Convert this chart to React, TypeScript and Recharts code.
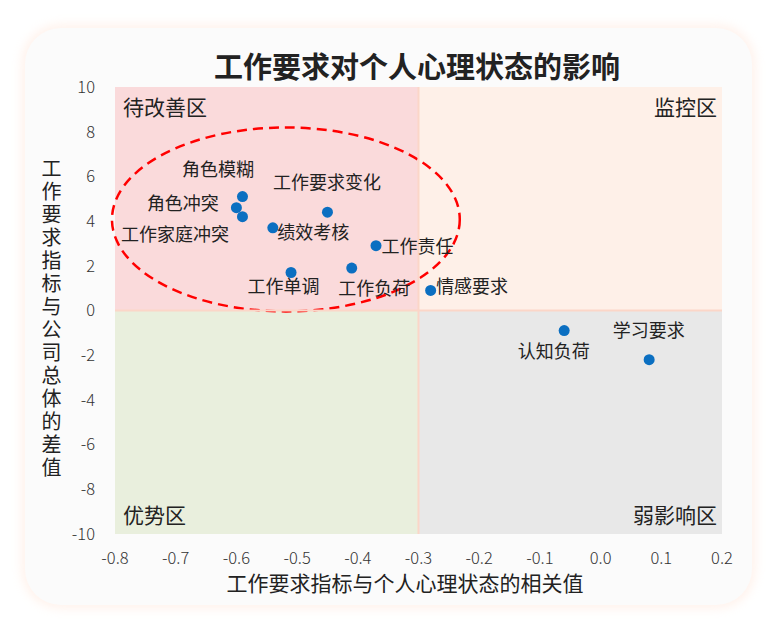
import React from 'react'
import {
  ScatterChart,
  Scatter,
  XAxis,
  YAxis,
  ReferenceArea,
  ReferenceLine,
  LabelList,
} from 'recharts'

// 工作要求指标
const names = [
  '角色模糊',
  '角色冲突',
  '工作家庭冲突',
  '绩效考核',
  '工作要求变化',
  '工作责任',
  '工作单调',
  '工作负荷',
  '情感要求',
  '认知负荷',
  '学习要求',
]
// 与个人心理状态的相关值
const corrValues = [-0.59, -0.6, -0.59, -0.54, -0.45, -0.37, -0.51, -0.41, -0.28, -0.06, 0.08]
// 与公司总体的差值
const diffValues = [5.1, 4.6, 4.2, 3.7, 4.4, 2.9, 1.7, 1.9, 0.9, -0.9, -2.2]

const xTicks = [-0.8, -0.7, -0.6, -0.5, -0.4, -0.3, -0.2, -0.1, 0, 0.1, 0.2]
const yTicks = [-10, -8, -6, -4, -2, 0, 2, 4, 6, 8, 10]

const data = names.map((name, i) => ({ name, x: corrValues[i], y: diffValues[i] }))

// label placement around each dot
const labelPos: Record<string, { dx: number; dy: number; anchor: string }> = {
  角色模糊: { dx: -20, dy: -24, anchor: 'middle' },
  角色冲突: { dx: -13, dy: -1, anchor: 'end' },
  工作家庭冲突: { dx: -9, dy: 21, anchor: 'end' },
  绩效考核: { dx: 9, dy: 8, anchor: 'start' },
  工作要求变化: { dx: 4, dy: -27, anchor: 'middle' },
  工作责任: { dx: 10, dy: 4, anchor: 'start' },
  工作单调: { dx: -3, dy: 17, anchor: 'middle' },
  工作负荷: { dx: 27, dy: 23, anchor: 'middle' },
  情感要求: { dx: 10, dy: -1, anchor: 'start' },
  认知负荷: { dx: -6, dy: 24, anchor: 'middle' },
  学习要求: { dx: 4, dy: -26, anchor: 'middle' },
}

const FONT = '"Noto Sans CJK SC", "Noto Sans", sans-serif'

const PointLabel = (props: any) => {
  const { x, y, value } = props
  const p = labelPos[value] || { dx: 0, dy: -15, anchor: 'middle' }
  return (
    <text
      x={x + p.dx}
      y={y + p.dy}
      textAnchor={p.anchor as any}
      dominantBaseline="central"
      fontSize={18}
      fill="#222"
      fontFamily={FONT}
    >
      {value}
    </text>
  )
}

const Dot = (props: any) => <circle cx={props.cx} cy={props.cy} r={5.5} fill="#0b6fc1" />

const Ellipse = (props: any) => {
  const { x, y, width, height } = props
  return (
    <ellipse
      cx={x + width / 2}
      cy={y + height / 2}
      rx={width / 2}
      ry={height / 2}
      fill="none"
      stroke="#ff0000"
      strokeWidth={2.5}
      strokeDasharray="10 6"
    />
  )
}

const QuadLabel = (props: any) => {
  const { viewBox, text, corner } = props
  const { x, y, width, height } = viewBox
  const right = corner.includes('right')
  const bottom = corner.includes('bottom')
  return (
    <text
      x={right ? x + width - 5 : x + 8}
      y={bottom ? y + height - 20 : y + 19}
      textAnchor={right ? 'end' : 'start'}
      dominantBaseline="central"
      fontSize={21}
      fill="#222"
      fontFamily={FONT}
    >
      {text}
    </text>
  )
}

const tickStyle = { fontSize: 16.5, fill: '#333', fontWeight: 300, fontFamily: FONT }

export default function App() {
  return (
    <div style={{ position: 'absolute', left: 0, top: 0, width: 773, height: 629, background: '#fff', fontFamily: FONT }}>
      <div
        style={{
          position: 'absolute',
          left: 25,
          top: 28,
          width: 727,
          height: 577,
          borderRadius: 36,
          background: '#fbfbfb',
          boxShadow: '0 0 10px 4px rgba(255,215,195,0.3)',
        }}
      />
      <div
        style={{
          position: 'absolute',
          left: 117,
          top: 46,
          width: 600,
          lineHeight: '38px',
          textAlign: 'center',
          fontSize: 29,
          fontWeight: 'bold',
          color: '#222',
        }}
      >
        工作要求对个人心理状态的影响
      </div>
      <div
        style={{
          position: 'absolute',
          left: 38,
          top: 158,
          width: 26,
          writingMode: 'vertical-rl',
          textOrientation: 'upright',
          fontSize: 20,
          letterSpacing: 3,
          lineHeight: '26px',
          color: '#222',
        }}
      >
        工作要求指标与公司总体的差值
      </div>
      <div
        style={{
          position: 'absolute',
          left: 105,
          top: 572,
          width: 600,
          lineHeight: '20px',
          textAlign: 'center',
          fontSize: 21,
          color: '#222',
        }}
      >
        工作要求指标与个人心理状态的相关值
      </div>
      <div style={{ position: 'absolute', left: 0, top: 0 }}>
        <ScatterChart width={773} height={629} margin={{ top: 87, right: 51, bottom: 55, left: 55 }}>
          <XAxis
            type="number"
            dataKey="x"
            domain={[-0.8, 0.2]}
            ticks={xTicks}
            tickFormatter={(v: number) => v.toFixed(1)}
            axisLine={false}
            tickLine={false}
            tickSize={0}
            tickMargin={18}
            height={40}
            allowDataOverflow
            tick={tickStyle}
          />
          <YAxis
            type="number"
            dataKey="y"
            domain={[-10, 10]}
            ticks={yTicks}
            axisLine={false}
            tickLine={false}
            tickSize={0}
            tickMargin={20}
            width={60}
            allowDataOverflow
            tick={tickStyle}
          />
          <ReferenceArea
            x1={-0.8}
            x2={-0.3}
            y1={0}
            y2={10}
            fill="#fadadb"
            fillOpacity={1}
            stroke="none"
            label={<QuadLabel text="待改善区" corner="top-left" />}
          />
          <ReferenceArea
            x1={-0.3}
            x2={0.2}
            y1={0}
            y2={10}
            fill="#fef0e8"
            fillOpacity={1}
            stroke="none"
            label={<QuadLabel text="监控区" corner="top-right" />}
          />
          <ReferenceArea
            x1={-0.8}
            x2={-0.3}
            y1={-10}
            y2={0}
            fill="#e9efdd"
            fillOpacity={1}
            stroke="none"
            label={<QuadLabel text="优势区" corner="bottom-left" />}
          />
          <ReferenceArea
            x1={-0.3}
            x2={0.2}
            y1={-10}
            y2={0}
            fill="#e8e8e8"
            fillOpacity={1}
            stroke="none"
            label={<QuadLabel text="弱影响区" corner="bottom-right" />}
          />
          <ReferenceLine x={-0.3} stroke="#fbd6c8" strokeWidth={2} />
          <ReferenceLine y={0} stroke="#fbd6c8" strokeWidth={2} />
          <ReferenceArea
            x1={-0.805}
            x2={-0.232}
            y1={-0.04}
            y2={8.19}
            ifOverflow="visible"
            shape={<Ellipse />}
          />
          <Scatter data={data} shape={<Dot />} isAnimationActive={false}>
            <LabelList dataKey="name" content={<PointLabel />} />
          </Scatter>
        </ScatterChart>
      </div>
    </div>
  )
}
